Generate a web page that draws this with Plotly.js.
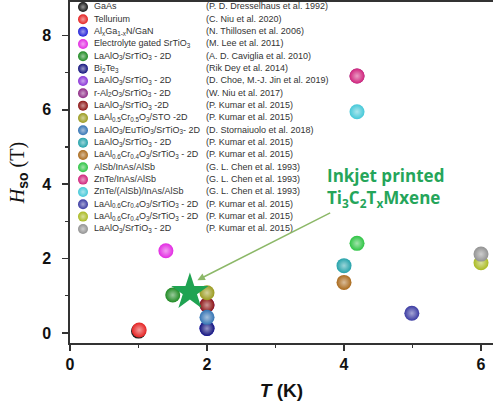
<!DOCTYPE html>
<html><head><meta charset="utf-8">
<script src="https://cdn.plot.ly/plotly-3.0.1.min.js"></script>
<style>html,body{margin:0;padding:0;background:#fff}#plot{width:493px;height:407px}</style>
</head><body><div id="plot"></div>
<script>
const names = [
  'GaAs','Tellurium','Al<sub>x</sub>Ga<sub>1-x</sub>N/GaN','Electrolyte gated SrTiO<sub>3</sub>',
  'LaAlO<sub>3</sub>/SrTiO<sub>3</sub> - 2D','Bi<sub>2</sub>Te<sub>3</sub>','LaAlO<sub>3</sub>/SrTiO<sub>3</sub> - 2D',
  'r-Al<sub>2</sub>O<sub>3</sub>/SrTiO<sub>3</sub> - 2D','LaAlO<sub>3</sub>/SrTiO<sub>3</sub> -2D',
  'LaAl<sub>0.5</sub>Cr<sub>0.5</sub>O<sub>3</sub>/STO -2D','LaAlO<sub>3</sub>/EuTiO<sub>3</sub>/SrTiO<sub>3</sub>- 2D',
  'LaAlO<sub>3</sub>/SrTiO<sub>3</sub> - 2D','LaAl<sub>0.6</sub>Cr<sub>0.4</sub>O<sub>3</sub>/SrTiO<sub>3</sub> - 2D',
  'AlSb/InAs/AlSb','ZnTe/InAs/AlSb','ZnTe/(AlSb)/InAs/AlSb',
  'LaAl<sub>0.6</sub>Cr<sub>0.4</sub>O<sub>3</sub>/SrTiO<sub>3</sub> - 2D','LaAl<sub>0.6</sub>Cr<sub>0.4</sub>O<sub>3</sub>/SrTiO<sub>3</sub> - 2D',
  'LaAlO<sub>3</sub>/SrTiO<sub>3</sub> - 2D'
];
const cites = [
  '(P. D. Dresselhaus et al. 1992)','(C. Niu et al. 2020)','(N. Thillosen et al. 2006)','(M. Lee et al. 2011)',
  '(A. D. Caviglia et al. 2010)','(Rik Dey et al. 2014)','(D. Choe, M.-J. Jin et al. 2019)','(W. Niu et al. 2017)',
  '(P. Kumar et al. 2015)','(P. Kumar et al. 2015)','(D. Stornaiuolo et al. 2018)','(P. Kumar et al. 2015)',
  '(P. Kumar et al. 2015)','(G. L. Chen et al. 1993)','(G. L. Chen et al. 1993)','(G. L. Chen et al. 1993)',
  '(P. Kumar et al. 2015)','(P. Kumar et al. 2015)','(P. Kumar et al. 2015)'
];
const colors = ['#151515','#e52222','#2323d8','#e22ae2','#1e8a22','#14147e','#8a34d8','#8e2a86','#8c1414',
  '#9a9a1e','#3474b4','#24a2aa','#aa6a1c','#2ec444','#d0247c','#44c8d8','#3a3aa2','#aaba22','#929292'];
const T_K = [1.0, 1.01, 2.0, 1.40, 1.50, 2.0, 2.0, 4.19, 2.0, 2.0, 2.0, 4.0, 4.0, 4.19, 4.19, 4.19, 4.99, 6.0, 6.0];
const Hso = [0.05, 0.08, 0.12, 2.21, 1.02, 0.12, 0.75, 6.91, 0.75, 1.08, 0.42, 1.81, 1.36, 2.41, 6.91, 5.95, 0.53, 1.89, 2.12];
const starT = [1.75], starH = [1.10];
const xTicks = [0,2,4,6], yTicks = [0,2,4,6,8];

function lighten(hex, f){
  const n = parseInt(hex.slice(1),16);
  const r=(n>>16)&255,g=(n>>8)&255,b=n&255;
  const m=c=>Math.round(c+(255-c)*f);
  return 'rgb('+m(r)+','+m(g)+','+m(b)+')';
}
const light = colors.map(c=>lighten(c,0.55));

// legend layout (overlay axes measured in px from plot top-left)
const rowIdx = names.map((_,i)=>i);
const rowY = rowIdx.map(i=>5+12.33*i);
const mkX = rowIdx.map(()=>13), nmX = rowIdx.map(()=>24), ctX = rowIdx.map(()=>136);

const data = [
  {type:'scatter',mode:'markers',x:T_K,y:Hso,hoverinfo:'skip',
   marker:{size:15,color:colors,line:{width:0},gradient:{type:'radial',color:light}}},
  {type:'scatter',mode:'markers',x:starT,y:starH,hoverinfo:'skip',
   marker:{symbol:'star',size:28,color:'#1fa352',line:{width:0}}},
  {type:'scatter',mode:'markers',x:mkX,y:rowY,xaxis:'x2',yaxis:'y2',hoverinfo:'skip',cliponaxis:false,
   marker:{size:10,color:colors,line:{width:0},gradient:{type:'radial',color:light}}},
  {type:'scatter',mode:'text',x:nmX,y:rowY,xaxis:'x2',yaxis:'y2',text:names,textposition:'middle right',
   hoverinfo:'skip',cliponaxis:false,textfont:{family:'Arial, Liberation Sans',size:9,color:'#333'}},
  {type:'scatter',mode:'text',x:ctX,y:rowY,xaxis:'x2',yaxis:'y2',text:cites,textposition:'middle right',
   hoverinfo:'skip',cliponaxis:false,textfont:{family:'Arial, Liberation Sans',size:9,color:'#333'}}
];

const tickFont = {family:'Arial, Liberation Sans',size:16,color:'#111',weight:'bold'};
const layout = {
  width:493,height:407,margin:{l:70,r:0,t:2,b:64},
  paper_bgcolor:'#fff',plot_bgcolor:'#fff',showlegend:false,
  xaxis:{range:[0,6.175],tickvals:xTicks,ticks:'outside',ticklen:6,tickwidth:1.5,tickcolor:'#333',
    showline:true,linecolor:'#333',linewidth:1.6,mirror:true,showgrid:false,zeroline:false,
    tickfont:tickFont,minor:{dtick:1,ticks:'outside',ticklen:3,tickcolor:'#333',tickwidth:1.2,showgrid:false},
    title:{text:'<i>T</i> (K)',font:{family:'Arial, Liberation Sans',size:19,color:'#111',weight:'bold'},standoff:12}},
  yaxis:{range:[-0.27,8.9],tickvals:yTicks,ticks:'outside',ticklen:6,tickwidth:1.5,tickcolor:'#333',
    showline:true,linecolor:'#333',linewidth:1.6,showgrid:false,zeroline:false,ticklabelstandoff:8,
    tickfont:tickFont,minor:{dtick:1,ticks:'outside',ticklen:3,tickcolor:'#333',tickwidth:1.2,showgrid:false},
    title:{text:'<i>H</i><sub><span style="font-family:Arial;font-weight:bold">so</span></sub> (T)',
      font:{family:'Times New Roman, Liberation Serif',size:20,color:'#111'},standoff:12}},
  xaxis2:{overlaying:'x',range:[0,423],visible:false,fixedrange:true},
  yaxis2:{overlaying:'y',range:[341,0],visible:false,fixedrange:true},
  annotations:[
    {x:1.86,y:1.42,ax:3.82,ay:3.25,xref:'x',yref:'y',axref:'x',ayref:'y',text:'',showarrow:true,
     arrowhead:2,arrowsize:1,arrowwidth:1.5,arrowcolor:'#8cb868'},
    {x:3.72,y:3.9,xref:'x',yref:'y',xanchor:'left',yanchor:'middle',showarrow:false,align:'left',
     text:'Inkjet printed<br>Ti<sub>3</sub>C<sub>2</sub>T<sub>x</sub>Mxene',
     font:{family:'Open Sans',size:17,color:'#25a55a',weight:'bold'}}
  ]
};
Plotly.newPlot('plot',data,layout,{displayModeBar:false,staticPlot:true});
</script></body></html>
